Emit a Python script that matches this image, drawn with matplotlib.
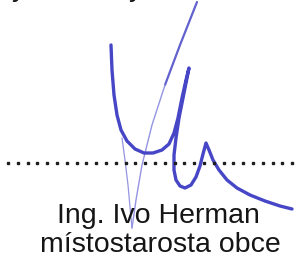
import numpy as np
import matplotlib.pyplot as plt

# Signature strokes, traced in pixel coordinates (x, y from top-left)
stroke_main_x = [111, 112, 114, 117, 121, 127, 135, 144, 153, 162, 169, 174, 178, 182, 186, 189,
                 187, 183, 179, 176, 174, 174, 176, 180, 185, 191, 196, 200, 203, 206,
                 209, 213, 219, 227, 237, 250, 265, 280, 292]
stroke_main_y = [45, 70, 95, 115, 130, 141, 149, 153, 153, 150, 144, 133, 118, 98, 80, 68,
                 78, 98, 118, 138, 155, 170, 180, 186, 188, 185, 177, 166, 154, 143,
                 150, 160, 170, 180, 188, 195, 201, 206, 209]

stroke_diag_x = [197, 180, 165, 152, 142, 136, 132]
stroke_diag_y = [2, 45, 85, 125, 165, 200, 228]

stroke_left_x = [122, 125, 128, 130, 132]
stroke_left_y = [138, 160, 185, 207, 228]

# Dotted signature line
dots_x0, dots_x1, dots_step, dots_y = 8, 300, 9.8, 163

# Text lines
name_text = "Ing. Ivo Herman"
role_text = "místostarosta obce"
top_fragments = ["y", "y"]
top_fragments_x = [12, 129]

W, H = 303, 257
fig = plt.figure(figsize=(W / 100, H / 100), dpi=100)
ax = fig.add_axes([0, 0, 1, 1])
ax.set_xlim(0, W)
ax.set_ylim(H, 0)
ax.axis('off')

ink = '#4646c6'
ink_light = '#9494e2'

# diagonal: firmer at the top, fading out lower down
ax.plot(stroke_diag_x[:3], stroke_diag_y[:3], color=ink, lw=1.6, alpha=0.85, solid_capstyle='round')
ax.plot(stroke_diag_x[2:], stroke_diag_y[2:], color=ink_light, lw=1.0, solid_capstyle='round')
ax.plot(stroke_left_x, stroke_left_y, color=ink_light, lw=0.9, solid_capstyle='round')
ax.plot(stroke_main_x, stroke_main_y, color=ink, lw=2.4, solid_capstyle='round',
        solid_joinstyle='round')

dots = np.arange(dots_x0, dots_x1, dots_step)
ax.plot(dots, np.full_like(dots, dots_y), ls='none', marker='s', ms=1.7, color='#1e1e1e')

font = ['Liberation Sans', 'DejaVu Sans']
ax.text(57, 223, name_text, fontsize=20.5, family=font, color='#151515', va='baseline', ha='left')
ax.text(40, 252.5, role_text, fontsize=20.5, family=font, color='#151515', va='baseline', ha='left')
for s, x in zip(top_fragments, top_fragments_x):
    ax.text(x, -4, s, fontsize=20.5, family=font, color='#151515', va='baseline', ha='left')

fig.savefig('out.png', dpi=100)
